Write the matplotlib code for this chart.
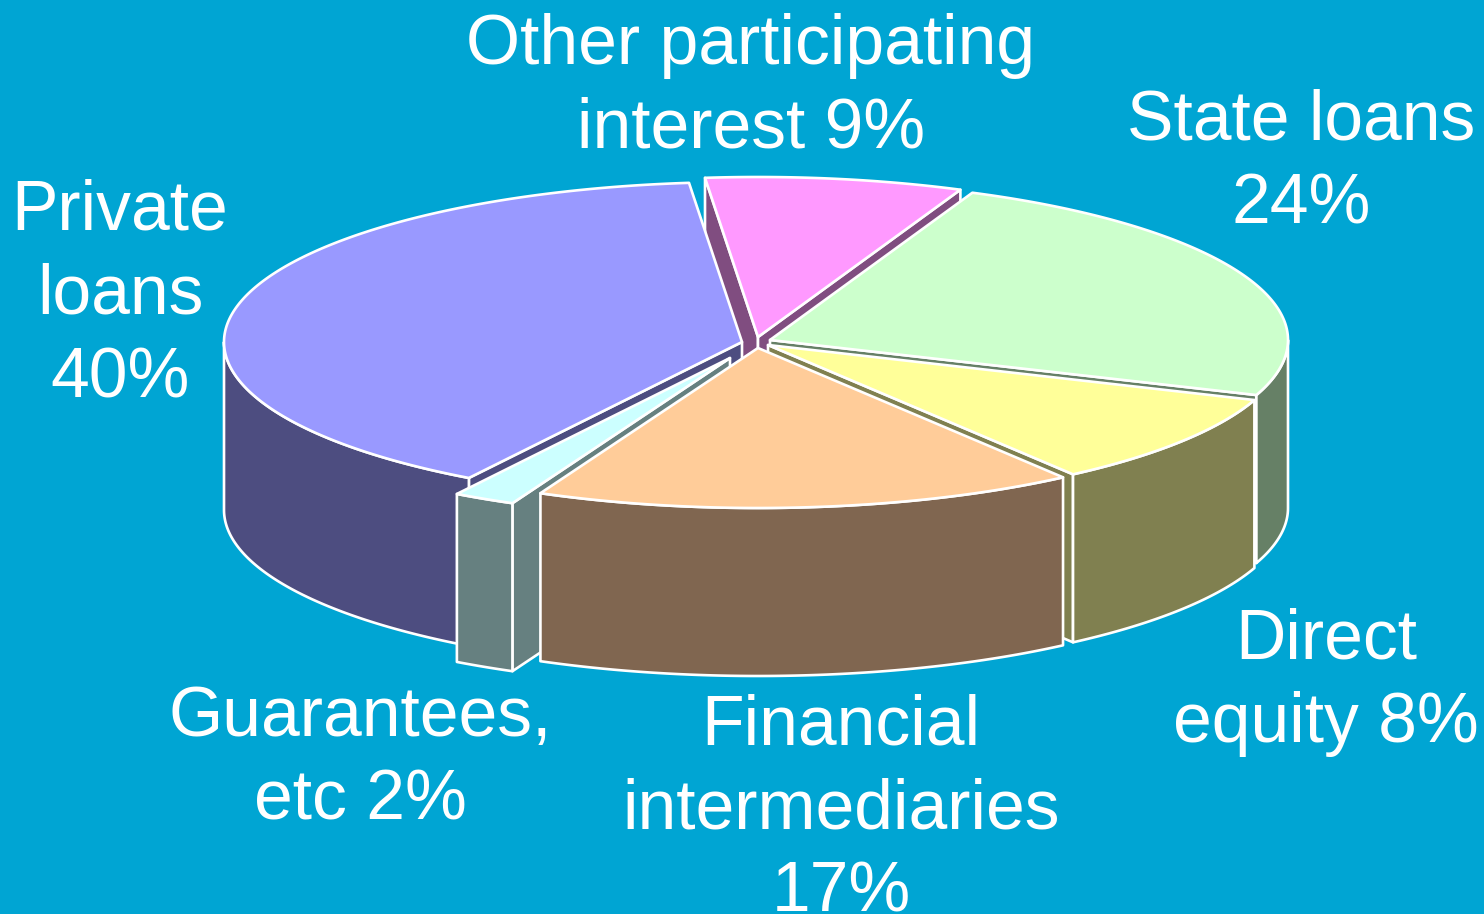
import numpy as np
import matplotlib
matplotlib.use('Agg')
import matplotlib.pyplot as plt
from matplotlib.patches import Polygon

plt.rcParams['font.family'] = ['Liberation Sans', 'DejaVu Sans']

# slices clockwise, starting from the top right
names = ['State loans\n24%', 'Direct\nequity 8%', 'Financial\nintermediaries\n17%',
         'Guarantees,\netc 2%', 'Private\nloans\n40%', 'Other participating\ninterest 9%']
# sizes as measured on the drawn slices (labels carry the rounded figures)
shares = [24.2, 9.39, 16.92, 1.94, 39.53, 8.02]
top_colors = ['#CCFFCC', '#FFFF99', '#FFCC99', '#CCFFFF', '#9999FF', '#FF99FF']
side_colors = ['#668066', '#808050', '#806650', '#668080', '#4D4D80', '#804D80']

# layout, pixels
bg = '#00A5D3'
start_angle = 23.0
rx, ry, depth = 518, 160, 168
apexes = [(770, 340), (768, 345), (758, 348), (730, 358), (742, 342), (758, 337)]
label_pos = [(1301, 223), (1326, 742), (841, 912), (360, 820), (120, 397), (751, 148)]
draw_order = [5, 0, 4, 1, 3, 2]  # back to front

fig = plt.figure(figsize=(14.84, 9.14), dpi=100, facecolor=bg)
ax = fig.add_axes([0, 0, 1, 1])
ax.set_xlim(0, 1484)
ax.set_ylim(914, 0)
ax.axis('off')

edges = start_angle + np.concatenate([[0], np.cumsum(shares)]) * 3.6
style = dict(edgecolor='white', linewidth=1.9, joinstyle='round')


def rim(cx, cy, a, b):
    t = np.radians(np.linspace(a, b, max(int(abs(b - a) * 2), 2)))
    return np.column_stack([cx + rx * np.sin(t), cy - ry * np.cos(t)])


def extrude(pts):
    low = pts + [0, depth]
    return np.vstack([pts, low[::-1]])


for i in draw_order:
    cx, cy = apexes[i]
    a, b = edges[i], edges[i + 1]

    # cut faces, only the ones turned towards the viewer
    if np.sin(np.radians(a)) < 0:
        ax.add_patch(Polygon(extrude(np.array([[cx, cy], rim(cx, cy, a, a + 1)[0]])),
                             facecolor=side_colors[i], **style))
    if np.sin(np.radians(b)) > 0:
        ax.add_patch(Polygon(extrude(np.array([[cx, cy], rim(cx, cy, b, b + 1)[0]])),
                             facecolor=side_colors[i], **style))

    # outer wall, front half of the ellipse only
    lo, hi = max(a, 90), min(b, 270)
    if hi > lo:
        ax.add_patch(Polygon(extrude(rim(cx, cy, lo, hi)),
                             facecolor=side_colors[i], **style))

    # top
    ax.add_patch(Polygon(np.vstack([[cx, cy], rim(cx, cy, a, b)]),
                         facecolor=top_colors[i], **style))

for name, (x, y) in zip(names, label_pos):
    ax.text(x, y, name, color='white', fontsize=50.1, ha='center', va='baseline',
            linespacing=1.345, multialignment='center')

fig.savefig('out.png', dpi=100, facecolor=bg)
